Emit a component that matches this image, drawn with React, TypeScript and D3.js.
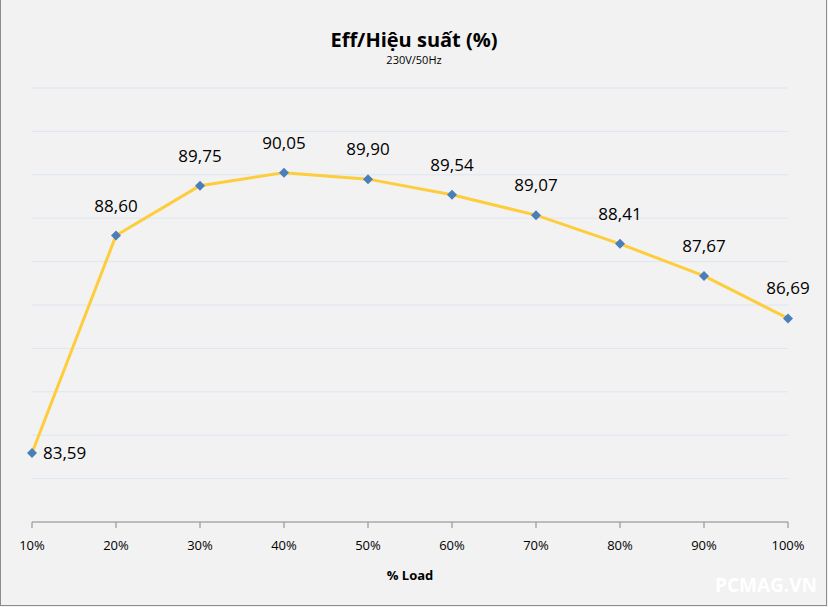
import React from "react";
import * as d3 from "d3";

const loads = ["10%", "20%", "30%", "40%", "50%", "60%", "70%", "80%", "90%", "100%"];
const efficiency = [83.59, 88.6, 89.75, 90.05, 89.9, 89.54, 89.07, 88.41, 87.67, 86.69];
const yTicks = [82, 83, 84, 85, 86, 87, 88, 89, 90, 91, 92];

const W = 828;
const H = 607;
const font = "'Open Sans', 'Noto Sans', sans-serif";

export default function App() {
  const x = d3.scalePoint<string>().domain(loads).range([32, 788]);
  const y = d3.scaleLinear().domain([82, 92]).range([522, 88]);
  const line = d3
    .line<number>()
    .x((_, i) => x(loads[i]) as number)
    .y((d) => y(d));
  const fmt = (v: number) => v.toFixed(2).replace(".", ",");

  return (
    <svg width={W} height={H} style={{ position: "absolute", left: 0, top: 0 }}>
      <rect x={0} y={0} width={W} height={H} fill="#f2f2f2" />
      <rect x={0.5} y={-1} width={W - 2} height={H - 0.5} fill="none" stroke="#8c8c8c" strokeWidth={1} />
      {yTicks.slice(1).map((t) => (
        <line key={t} x1={32} x2={788} y1={y(t)} y2={y(t)} stroke="#dde6f1" strokeWidth={1} />
      ))}
      <line x1={32} x2={788} y1={y(82)} y2={y(82)} stroke="#868686" strokeWidth={1} />
      {loads.map((l) => (
        <g key={l}>
          <line x1={x(l)} x2={x(l)} y1={y(82)} y2={y(82) + 6} stroke="#868686" />
          <text x={x(l)} y={550} textAnchor="middle" fontFamily={font} fontSize={13} fill="#000">
            {l}
          </text>
        </g>
      ))}
      <path d={line(efficiency) || ""} fill="none" stroke="#fdcd3c" strokeWidth={3} strokeLinejoin="round" />
      {efficiency.map((v, i) => {
        const cx = x(loads[i]) as number;
        const cy = y(v);
        const s = 5;
        return (
          <g key={i}>
            <path d={`M${cx},${cy - s}L${cx + s},${cy}L${cx},${cy + s}L${cx - s},${cy}Z`} fill="#4a7ebb" />
            {i === 0 ? (
              <text x={cx + 11} y={cy + 6} fontFamily={font} fontSize={17} fill="#000">
                {fmt(v)}
              </text>
            ) : (
              <text x={cx} y={cy - 24} textAnchor="middle" fontFamily={font} fontSize={17} fill="#000">
                {fmt(v)}
              </text>
            )}
          </g>
        );
      })}
      <text x={414} y={47} textAnchor="middle" fontFamily={font} fontSize={20} fontWeight="bold" fill="#000">
        Eff/Hiệu suất (%)
      </text>
      <text x={414} y={64} textAnchor="middle" fontFamily={font} fontSize={11} fill="#000">
        230V/50Hz
      </text>
      <text x={410} y={580} textAnchor="middle" fontFamily={font} fontSize={13} fontWeight="bold" fill="#000">
        % Load
      </text>
      <text x={766} y={592} textAnchor="middle" fontFamily={font} fontSize={19} fontWeight="bold" fill="#ffffff">
        PCMAG.VN
      </text>
    </svg>
  );
}
